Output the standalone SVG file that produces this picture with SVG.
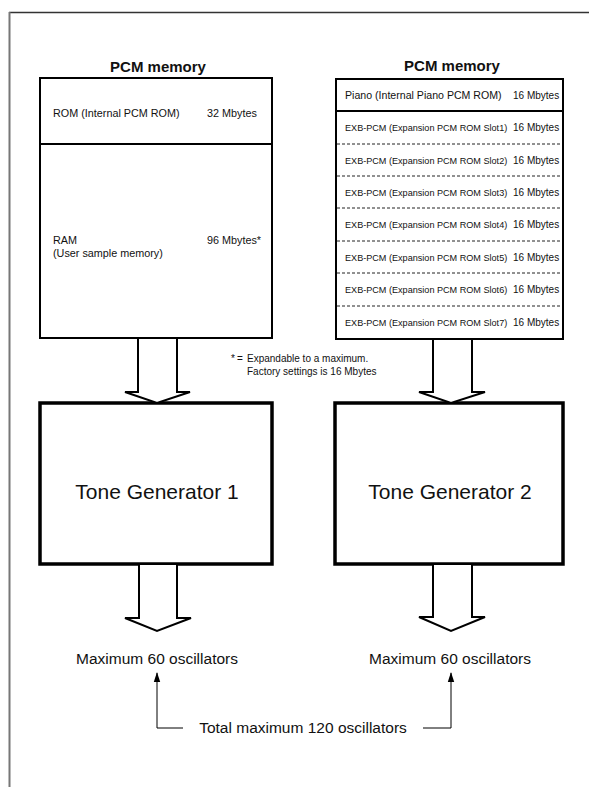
<svg xmlns="http://www.w3.org/2000/svg" width="589" height="787" viewBox="0 0 589 787">
<style>
  text { font-family: "Liberation Sans", Arial, sans-serif; fill: #111; }
  .title { font-size: 15px; font-weight: bold; text-anchor: middle; }
  .cell { font-size: 10.8px; }
  .small { font-size: 10px; }
  .exb { font-size: 9.1px; }
  .piano { font-size: 10.6px; }
  .tg { font-size: 21px; text-anchor: middle; }
  .osc { font-size: 15.5px; }
  .box { fill: #fff; stroke: #000; stroke-width: 2; }
  .tgbox { fill: #fff; stroke: #000; stroke-width: 3.5; }
  .div { stroke: #000; stroke-width: 2; }
  .dash { stroke: #222; stroke-width: 1; stroke-dasharray: 3 2; }
  .blk { fill: #fff; stroke: #000; stroke-width: 2; stroke-linejoin: miter; }
  .line { fill: none; stroke: #000; stroke-width: 1; }
</style>
<defs>
  <marker id="ah" markerWidth="10" markerHeight="8" refX="9" refY="4" orient="auto" markerUnits="userSpaceOnUse" viewBox="0 0 10 8">
    <path d="M0,0.8 L10,4 L0,7.2 Z" fill="#000"/>
  </marker>
</defs>

<g id="frame">
  <line x1="9" y1="12.5" x2="589" y2="12.5" stroke="#333" stroke-width="1.5"/>
  <line x1="9.5" y1="12" x2="9.5" y2="787" stroke="#777" stroke-width="2"/>
</g>

<g id="pcm1">
  <text class="title" x="158" y="72">PCM memory</text>
  <rect class="box" x="40" y="78" width="232" height="260"/>
  <line class="div" x1="40" y1="144" x2="272" y2="144"/>
  <text class="cell" x="53" y="117">ROM (Internal PCM ROM)</text>
  <text class="cell" x="207" y="117">32 Mbytes</text>
  <text class="cell" x="53" y="244">RAM</text>
  <text class="cell" x="53" y="257">(User sample memory)</text>
  <text class="cell" x="207" y="244">96 Mbytes*</text>
</g>

<g id="pcm2">
  <text class="title" x="452" y="71">PCM memory</text>
  <rect class="box" x="336" y="79" width="227" height="260"/>
  <line class="div" x1="336" y1="111" x2="563" y2="111"/>
  <line class="dash" x1="337" y1="144" x2="562" y2="144"/>
  <line class="dash" x1="337" y1="176" x2="562" y2="176"/>
  <line class="dash" x1="337" y1="208" x2="562" y2="208"/>
  <line class="dash" x1="337" y1="241" x2="562" y2="241"/>
  <line class="dash" x1="337" y1="273" x2="562" y2="273"/>
  <line class="dash" x1="337" y1="306" x2="562" y2="306"/>
  <text class="piano" x="345" y="99">Piano (Internal Piano PCM ROM)</text>
  <text class="small" x="513" y="99">16 Mbytes</text>
  <text class="exb" x="345" y="131">EXB-PCM (Expansion PCM ROM Slot1)</text>
  <text class="small" x="513" y="131">16 Mbytes</text>
  <text class="exb" x="345" y="163.5">EXB-PCM (Expansion PCM ROM Slot2)</text>
  <text class="small" x="513" y="163.5">16 Mbytes</text>
  <text class="exb" x="345" y="195.5">EXB-PCM (Expansion PCM ROM Slot3)</text>
  <text class="small" x="513" y="195.5">16 Mbytes</text>
  <text class="exb" x="345" y="228">EXB-PCM (Expansion PCM ROM Slot4)</text>
  <text class="small" x="513" y="228">16 Mbytes</text>
  <text class="exb" x="345" y="260.5">EXB-PCM (Expansion PCM ROM Slot5)</text>
  <text class="small" x="513" y="260.5">16 Mbytes</text>
  <text class="exb" x="345" y="293">EXB-PCM (Expansion PCM ROM Slot6)</text>
  <text class="small" x="513" y="293">16 Mbytes</text>
  <text class="exb" x="345" y="326">EXB-PCM (Expansion PCM ROM Slot7)</text>
  <text class="small" x="513" y="326">16 Mbytes</text>
</g>

<g id="note">
  <text class="small" x="231" y="362">*</text>
  <text class="small" x="237" y="362">=</text>
  <text class="small" x="247" y="362">Expandable to a maximum.</text>
  <text class="small" x="247" y="375">Factory settings is 16 Mbytes</text>
</g>

<g id="tg1">
  <rect class="tgbox" x="40" y="403" width="232" height="161"/>
  <text class="tg" x="157" y="499">Tone Generator 1</text>
</g>

<g id="tg2">
  <rect class="tgbox" x="335" y="403" width="228" height="161"/>
  <text class="tg" x="450" y="499">Tone Generator 2</text>
</g>

<g id="osc1">
  <text class="osc" x="157" y="664" text-anchor="middle">Maximum 60 oscillators</text>
</g>
<g id="osc2">
  <text class="osc" x="450" y="664" text-anchor="middle">Maximum 60 oscillators</text>
</g>
<g id="total">
  <text class="osc" x="303" y="733" text-anchor="middle">Total maximum 120 oscillators</text>
</g>

<g id="connectors">
  <path class="blk" d="M138,339 L138,392 L125,392 L157,403 L190,392 L177,392 L177,339"/>
  <path class="blk" d="M433,340 L433,392 L419,392 L451,403 L485,392 L472,392 L472,340"/>
  <path class="blk" d="M139,565 L139,618 L125,618 L157,631 L191,618 L177,618 L177,565"/>
  <path class="blk" d="M433,565 L433,617 L419,617 L451,631 L485,617 L472,617 L472,565"/>
  <path class="line" d="M183,728 L157,728 L157,673" marker-end="url(#ah)"/>
  <path class="line" d="M423,728 L451,728 L451,673" marker-end="url(#ah)"/>
</g>
</svg>
